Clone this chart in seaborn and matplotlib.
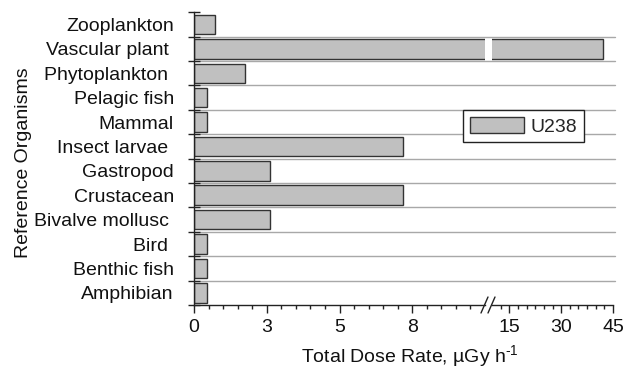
import numpy as np
import pandas as pd
import matplotlib
matplotlib.use("Agg")
import matplotlib.pyplot as plt
from matplotlib.lines import Line2D
import seaborn as sns

organisms = ["Zooplankton", "Vascular plant ", "Phytoplankton ", "Pelagic fish", "Mammal",
             "Insect larvae ", "Gastropod", "Crustacean", "Bivalve mollusc ", "Bird ",
             "Benthic fish", "Amphibian"]
dose = [0.72, 42.1, 1.75, 0.46, 0.46, 7.19, 2.6, 7.19, 2.6, 0.46, 0.46, 0.46]
series_label = "U238"
left_ticks = [0, 2.5, 5, 7.5]
left_ticklabels = ["0", "3", "5", "8"]
right_ticks = [15, 30, 45]
right_ticklabels = ["15", "30", "45"]

df = pd.DataFrame({"organism": organisms, "dose": dose})

sns.set_style("ticks")
plt.rcParams["font.family"] = ["Liberation Sans", "DejaVu Sans"]
plt.rcParams["mathtext.fontset"] = "custom"
plt.rcParams["mathtext.rm"] = "Liberation Sans"
plt.rcParams["mathtext.it"] = "Liberation Sans:italic"

FS = 14
W, H = 632, 368
fig = plt.figure(figsize=(W / 100, H / 100), dpi=100)
fig.patch.set_facecolor("white")

x0, xb1, xb2, x1 = 194, 485, 492, 613
ytop, ybot = 12.3, 305
bottom = (H - ybot) / H
height = (ybot - ytop) / H
axL = fig.add_axes([x0 / W, bottom, (xb1 - x0) / W, height])
axR = fig.add_axes([xb2 / W, bottom, (x1 - xb2) / W, height], sharey=axL)
axR.set_facecolor("none")

bar_kw = dict(orient="h", color="#c0c0c0", edgecolor="#333333", linewidth=1.0, width=0.8)
for ax in (axL, axR):
    sns.barplot(data=df, x="dose", y="organism", ax=ax, label=series_label, **bar_kw)
    if ax.get_legend() is not None:
        ax.get_legend().remove()
    ax.set_xlabel("")
    ax.set_ylabel("")
    for s in ("top", "right"):
        ax.spines[s].set_visible(False)
    ax.spines["bottom"].set_linewidth(1.0)
    ax.spines["bottom"].set_color("#222222")

axL.set_xlim(0, 10)
axR.set_xlim(10, 45)
axL.set_ylim(len(organisms) - 0.5, -0.5)

# grid lines at category boundaries
gx_end = (615 - x0) / (xb1 - x0)
for b in np.arange(0.5, len(organisms) - 0.5, 1):
    axL.axhline(b, xmin=0, xmax=gx_end, color="#a8a8a8", lw=1.0, zorder=0.5, clip_on=False)

# left axis ticks
axL.spines["left"].set_linewidth(1.0)
axL.spines["left"].set_color("#222222")
axL.tick_params(axis="y", which="major", length=0, pad=14.5, labelsize=FS, colors="#111111")
axL.set_yticks(np.arange(-0.5, len(organisms), 1), minor=True)
axL.tick_params(axis="y", which="minor", direction="inout", length=8, width=1.0, color="#222222")

axL.set_xticks(left_ticks)
axL.set_xticklabels(left_ticklabels)
axL.set_xticks(np.arange(0.5, 10, 0.5), minor=True)
axR.set_xticks(right_ticks)
axR.set_xticklabels(right_ticklabels)
axR.set_xticks([12.5, 17.5, 20, 22.5, 25, 27.5, 32.5, 35, 37.5, 40, 42.5], minor=True)
for ax in (axL, axR):
    ax.tick_params(axis="x", which="major", direction="out", length=6, width=1.0,
                   pad=4, labelsize=FS, color="#222222", labelcolor="#111111")
    ax.tick_params(axis="x", which="minor", direction="out", length=3, width=1.0, color="#222222")

axR.spines["left"].set_visible(False)
axR.tick_params(axis="y", which="both", left=False, labelleft=False)

# axis break marks
for xs in (481, 488):
    fig.add_artist(Line2D([xs / W, (xs + 7) / W], [(H - 313) / H, (H - 297) / H],
                          color="#222222", lw=1.0))

# labels
axL.set_ylabel("Reference Organisms", fontsize=FS, color="#111111")
axL.yaxis.set_label_coords((32 - x0) / (xb1 - x0), 0.487)
fig.text(410 / W, (H - 362.5) / H, "Total Dose Rate, \u00b5Gy h$^{\\text{-1}}$", ha="center",
         va="baseline", fontsize=FS, color="#111111")

handles, labels = axL.get_legend_handles_labels()
leg = fig.legend(handles[:1], labels[:1], loc="upper left",
                 bbox_to_anchor=(463 / W, 1 - 110 / H), bbox_transform=fig.transFigure,
                 fontsize=FS, frameon=True, fancybox=False, borderaxespad=0,
                 borderpad=0.35, handlelength=2.8, handleheight=0.9, handletextpad=0.3)
leg.get_frame().set_edgecolor("#222222")
leg.get_frame().set_linewidth(1.0)
leg.get_frame().set_facecolor("white")
leg.get_frame().set_alpha(1.0)

fig.savefig("out.png", dpi=100, facecolor="white")
